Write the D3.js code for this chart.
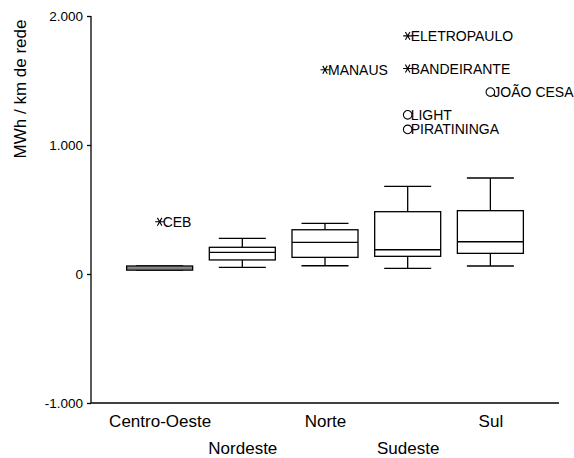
<!DOCTYPE html>
<html>
<head>
<meta charset="utf-8">
<script src="https://cdn.jsdelivr.net/npm/d3@7"></script>
<style>
  html, body { margin: 0; padding: 0; background: #fff; }
  svg { display: block; font-family: "Liberation Sans", Arial, sans-serif; }
</style>
</head>
<body>
<svg id="chart" width="574" height="458"></svg>
<script>
// Consumo por km de rede, por região (boxplot)
const regions = ["Centro-Oeste", "Nordeste", "Norte", "Sudeste", "Sul"];
const whiskerLow  = [30, 52, 64, 44, 62];
const q1          = [30, 109, 129, 137, 160];
const median      = [45, 168, 245, 188, 250];
const q3          = [62, 207, 343, 483, 491];
const whiskerHigh = [62, 276, 393, 680, 744];

// Valores atípicos (o) e extremos (*)
const outlierRegion = ["Centro-Oeste", "Norte", "Sudeste", "Sudeste", "Sudeste", "Sudeste", "Sul"];
const outlierName   = ["CEB", "MANAUS", "ELETROPAULO", "BANDEIRANTE", "LIGHT", "PIRATININGA", "JOÃO CESA"];
const outlierValue  = [405, 1583, 1846, 1593, 1234, 1121, 1410];
const outlierKind   = ["extreme", "extreme", "extreme", "extreme", "outlier", "outlier", "outlier"];

const yTicks = [-1000, 0, 1000, 2000];
const yLabel = "MWh / km de rede";

const svg = d3.select("#chart");
const plotLeft = 91, plotRight = 559, plotTop = 16, plotBottom = 403;

const x = d3.scalePoint().domain(regions).range([plotLeft, plotRight]).padding(0.83);
const y = d3.scaleLinear().domain([-1000, 2000]).range([plotBottom, plotTop]);

const ptBR = d3.formatLocale({ decimal: ",", thousands: ".", grouping: [3], currency: ["R$", ""], minus: "-" });
const fmt = ptBR.format(",d");

// Eixo Y
const yAxis = svg.append("g")
  .attr("transform", `translate(${plotLeft},0)`)
  .call(d3.axisLeft(y).tickValues(yTicks).tickFormat(fmt).tickSize(4).tickPadding(4));
yAxis.select(".domain").attr("stroke", "#000").attr("stroke-width", 1.3).attr("d", `M0,${plotTop}V${plotBottom}`);
yAxis.selectAll(".tick line").attr("stroke", "#000").attr("stroke-width", 1.3);
yAxis.selectAll(".tick text").attr("font-size", 13.5).attr("fill", "#000")
  .attr("font-family", "'Liberation Sans', Arial, sans-serif");

// Eixo X (linha sem marcas, rótulos em duas linhas alternadas)
const xAxis = svg.append("g")
  .attr("transform", `translate(0,${plotBottom})`)
  .call(d3.axisBottom(x).tickSize(0).tickPadding(0));
xAxis.select(".domain").attr("stroke", "#000").attr("stroke-width", 1.3).attr("d", `M${plotLeft},0H${plotRight}`);
xAxis.selectAll(".tick text")
  .attr("font-size", 17).attr("fill", "#000")
  .attr("font-family", "'Liberation Sans', Arial, sans-serif")
  .attr("dy", null)
  .attr("y", (d, i) => i % 2 === 0 ? 24 : 51);

// Título do eixo Y
svg.append("text")
  .attr("transform", `translate(26,${(plotTop + 162) / 2}) rotate(-90)`)
  .attr("text-anchor", "middle")
  .attr("font-size", 17)
  .attr("fill", "#000")
  .text(yLabel);

// Caixas
const boxW = 66, capW = 47;
const boxes = svg.append("g").selectAll("g")
  .data(regions.map((r, i) => ({ r, lo: whiskerLow[i], q1: q1[i], md: median[i], q3: q3[i], hi: whiskerHigh[i] })))
  .join("g")
  .attr("stroke", "#000")
  .attr("stroke-width", 1.3);

boxes.append("line")
  .attr("x1", d => x(d.r)).attr("x2", d => x(d.r))
  .attr("y1", d => y(d.hi)).attr("y2", d => y(d.q3));
boxes.append("line")
  .attr("x1", d => x(d.r)).attr("x2", d => x(d.r))
  .attr("y1", d => y(d.q1)).attr("y2", d => y(d.lo));
boxes.append("line")
  .attr("x1", d => x(d.r) - capW / 2).attr("x2", d => x(d.r) + capW / 2)
  .attr("y1", d => y(d.hi)).attr("y2", d => y(d.hi));
boxes.append("line")
  .attr("x1", d => x(d.r) - capW / 2).attr("x2", d => x(d.r) + capW / 2)
  .attr("y1", d => y(d.lo)).attr("y2", d => y(d.lo));
boxes.append("rect")
  .attr("x", d => x(d.r) - boxW / 2)
  .attr("width", boxW)
  .attr("y", d => y(d.q3))
  .attr("height", d => y(d.q1) - y(d.q3))
  .attr("fill", d => (y(d.q1) - y(d.q3)) < 6 ? "#a8a8a8" : "#fff");
boxes.append("line")
  .attr("x1", d => x(d.r) - boxW / 2).attr("x2", d => x(d.r) + boxW / 2)
  .attr("y1", d => y(d.md)).attr("y2", d => y(d.md))
  .attr("stroke-opacity", d => (y(d.q1) - y(d.q3)) < 6 ? 0.35 : 1);

// Marcadores de valores atípicos e extremos
const outliers = outlierName.map((n, i) => ({ n, r: outlierRegion[i], v: outlierValue[i], k: outlierKind[i] }));
const og = svg.append("g").selectAll("g").data(outliers).join("g")
  .attr("transform", d => `translate(${x(d.r)},${y(d.v)})`);

const s = 4.5, dx = s * Math.cos(Math.PI / 3), dy = s * Math.sin(Math.PI / 3);
og.filter(d => d.k === "extreme").append("path")
  .attr("d", `M${-s},0H${s}M${-dx},${-dy}L${dx},${dy}M${-dx},${dy}L${dx},${-dy}`)
  .attr("stroke", "#000").attr("stroke-width", 1.1).attr("fill", "none");
og.filter(d => d.k === "outlier").append("circle")
  .attr("r", 4.3)
  .attr("stroke", "#000").attr("stroke-width", 1.1).attr("fill", "none");

og.append("text")
  .attr("x", 3)
  .attr("dy", "0.36em")
  .attr("font-size", 14)
  .attr("fill", "#000")
  .text(d => d.n);
</script>
</body>
</html>
